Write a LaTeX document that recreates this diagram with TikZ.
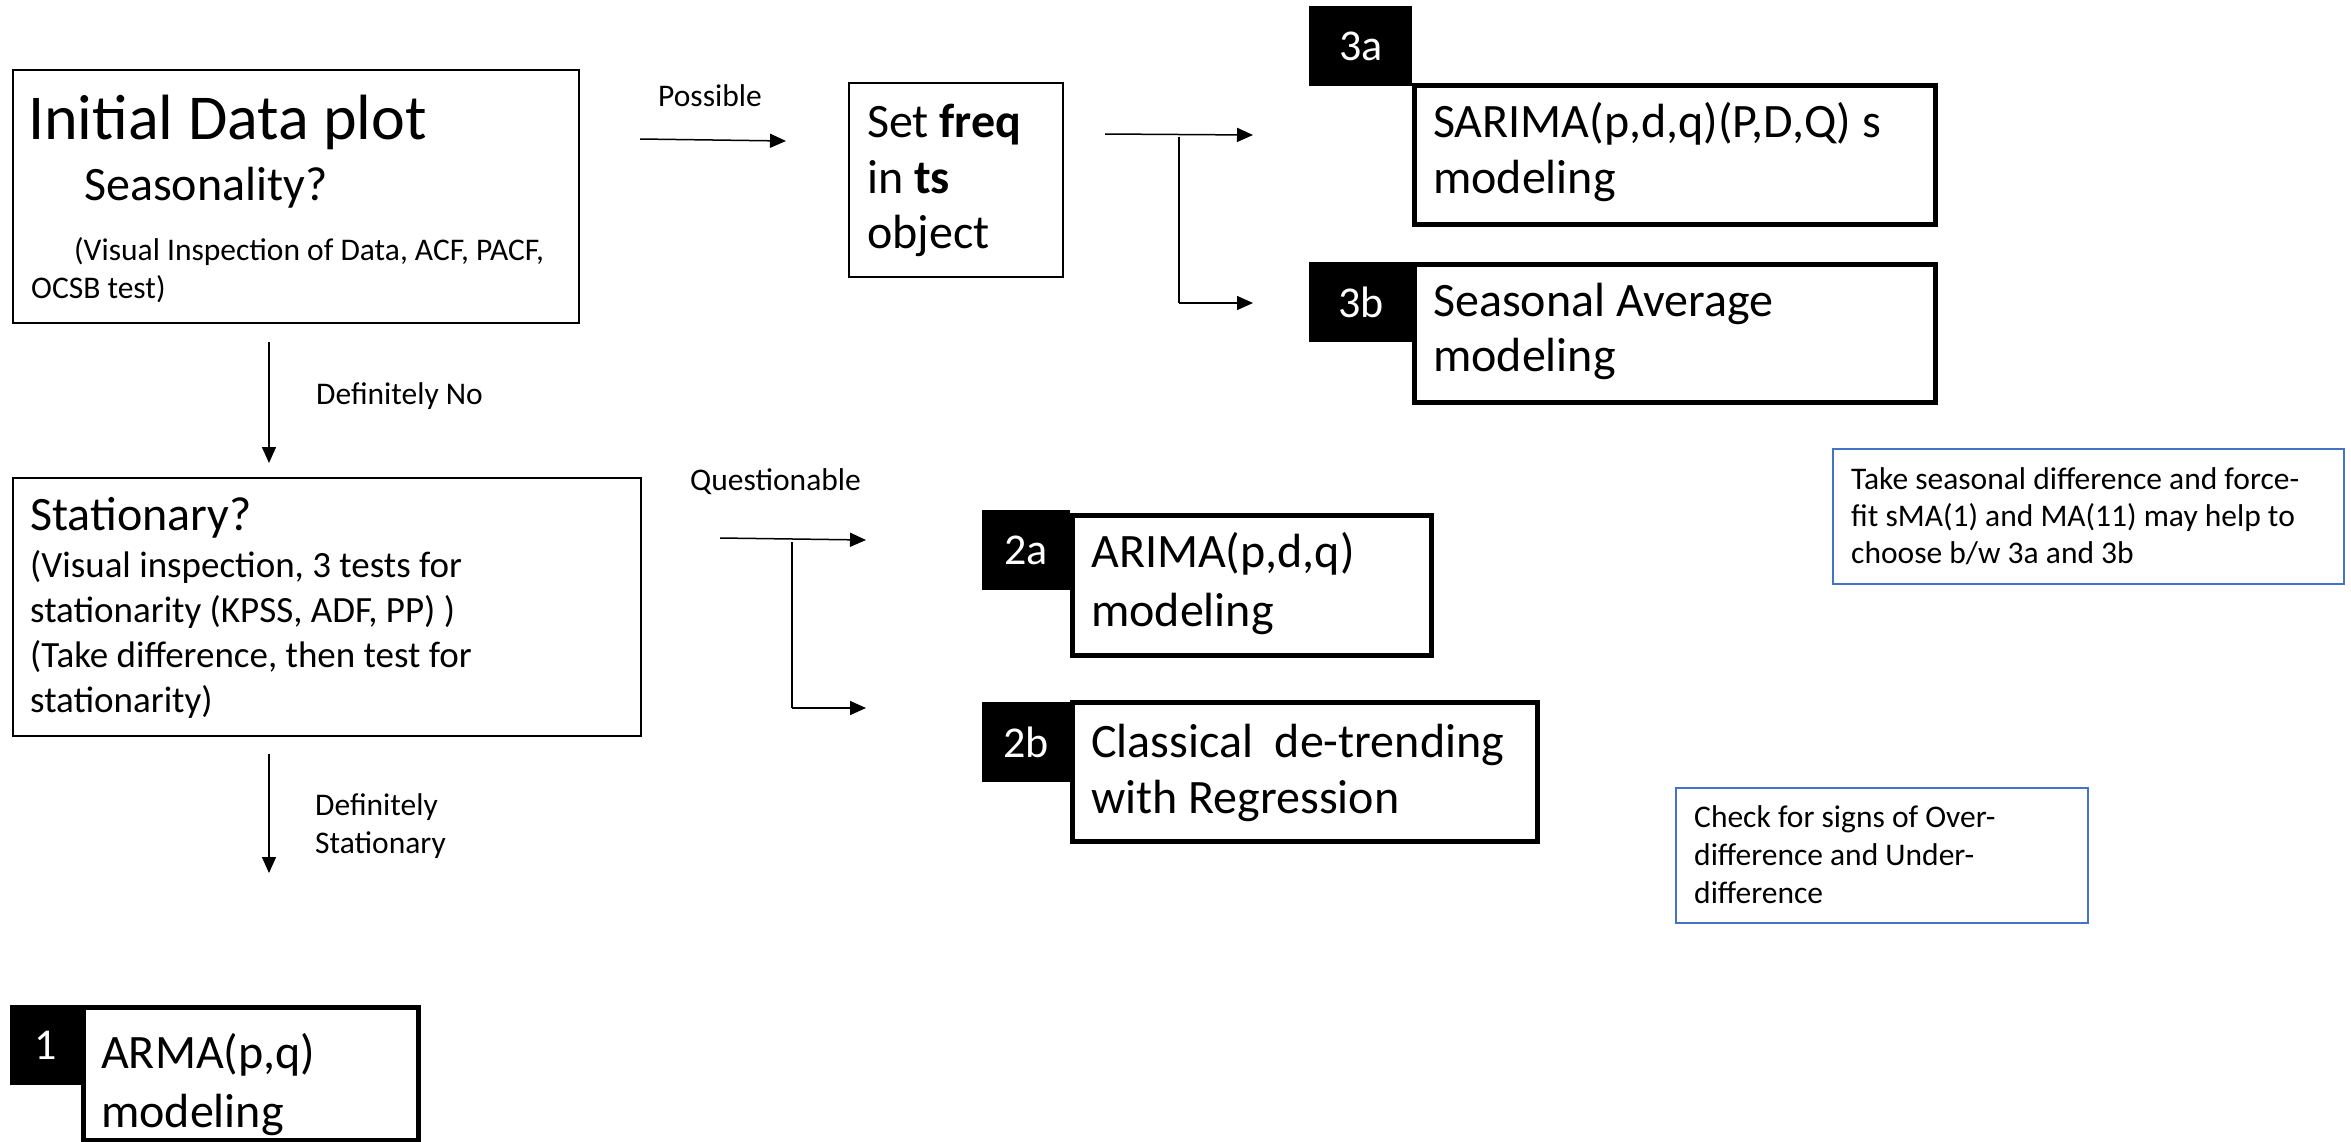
\documentclass[tikz,border=0pt]{standalone}
\usepackage{fontspec}
\setmainfont{Carlito}
\usetikzlibrary{arrows.meta}
\definecolor{noteblue}{HTML}{4472C4}
\begin{document}
\begin{tikzpicture}[x=1pt,y=-1pt,
  thinbox/.style={draw, line width=2pt, inner sep=0pt, anchor=north west},
  modelbox/.style={draw, line width=4.5pt, inner sep=0pt, anchor=north west},
  tagbox/.style={fill=black, text=white, inner sep=0pt, anchor=north west, font=\fontsize{44}{53}\selectfont},
  notebox/.style={draw=noteblue, line width=2pt, inner sep=0pt, anchor=north west},
  txt/.style={anchor=base west, inner sep=0pt},
  big/.style={font=\fontsize{64}{76}\selectfont},
  mid/.style={font=\fontsize{48}{57}\selectfont},
  body/.style={font=\fontsize{37}{45}\selectfont},
  small/.style={font=\fontsize{31.5}{38}\selectfont},
  conn/.style={line width=1.5pt, -{Triangle[length=16pt,width=14pt]}},
  plainline/.style={line width=1.5pt}]
\useasboundingbox (0,0) rectangle (2351,1141);

% boxes
\node[thinbox, minimum width=566pt, minimum height=253pt] (init) at (12,69) {};
\node[thinbox, minimum width=214pt, minimum height=194pt] (freq) at (848,82) {};
\node[thinbox, minimum width=628pt, minimum height=258pt] (stat) at (12,477) {};

\node[modelbox, minimum width=521pt, minimum height=139pt] (sarima) at (1412,83) {};
\node[modelbox, minimum width=521pt, minimum height=138pt] (seas) at (1412,262) {};
\node[modelbox, minimum width=359pt, minimum height=140pt] (arima) at (1070,513) {};
\node[modelbox, minimum width=465pt, minimum height=139pt] (classic) at (1070,700) {};
\node[modelbox, minimum width=335pt, minimum height=133pt] (arma) at (81,1005) {};

\node[tagbox, minimum width=103pt, minimum height=80pt] (t3a) at (1309,6) {3a};
\node[tagbox, minimum width=103pt, minimum height=80pt] (t3b) at (1309,262) {3b};
\node[tagbox, minimum width=88pt, minimum height=80pt] (t2a) at (982,510) {2a};
\node[tagbox, minimum width=88pt, minimum height=80pt] (t2b) at (982,702) {2b};
\node[tagbox, minimum width=71pt, minimum height=80pt] (t1) at (10,1005) {1};

\node[notebox, minimum width=511pt, minimum height=135pt] (note1) at (1832,448) {};
\node[notebox, minimum width=412pt, minimum height=135pt] (note2) at (1675,787) {};

% texts in Initial box
\node[txt, big] (i1) at (28,139) {Initial Data plot};
\node[txt, mid] (i2) at (84,200) {Seasonality?};
\node[txt, small] (i3) at (74,260) {(Visual Inspection of Data, ACF, PACF,};
\node[txt, small] (i4) at (31,298) {OCSB test)};

% Set freq
\node[txt, mid] (f1) at (867,137) {Set \textbf{freq}};
\node[txt, mid] (f2) at (867,193) {in \textbf{ts}};
\node[txt, mid] (f3) at (867,248) {object};

% Stationary box
\node[txt, mid] (s1) at (30,530) {Stationary?};
\node[txt, body] (s2) at (30,577) {(Visual inspection, 3 tests for};
\node[txt, body] (s3) at (30,622) {stationarity (KPSS, ADF, PP) )};
\node[txt, body] (s4) at (30,667) {(Take difference, then test for};
\node[txt, body] (s5) at (30,712) {stationarity)};

% model box texts
\node[txt, mid] (m1) at (1433,137) {SARIMA(p,d,q)(P,D,Q) s};
\node[txt, mid] (m2) at (1433,193) {modeling};
\node[txt, mid] (m3) at (1433,316) {Seasonal Average};
\node[txt, mid] (m4) at (1433,371) {modeling};
\node[txt, mid] (m5) at (1091,567) {ARIMA(p,d,q)};
\node[txt, mid] (m6) at (1091,626) {modeling};
\node[txt, mid] (m7) at (1091,757) {Classical\ \ de-trending};
\node[txt, mid] (m8) at (1091,813) {with Regression};
\node[txt, mid] (m9) at (101,1068) {ARMA(p,q)};
\node[txt, mid] (m10) at (101,1127) {modeling};

% notes
\node[txt, small] (n1) at (1851,489) {Take seasonal difference and force-};
\node[txt, small] (n2) at (1851,526) {fit sMA(1) and MA(11) may help to};
\node[txt, small] (n3) at (1851,563) {choose b/w 3a and 3b};
\node[txt, small] (n4) at (1694,827) {Check for signs of Over-};
\node[txt, small] (n5) at (1694,865) {difference and Under-};
\node[txt, small] (n6) at (1694,903) {difference};

% connector labels
\node[txt, small] (lPos) at (658,106) {Possible};
\node[txt, small] (lDefNo) at (316,404) {Definitely No};
\node[txt, small] (lQ) at (690,490) {Questionable};
\node[txt, small] (lDef1) at (315,815) {Definitely};
\node[txt, small] (lDef2) at (315,853) {Stationary};

% connector coordinates
\coordinate (pA) at (640,139);
\coordinate (pB) at (786,141);
\coordinate (fA) at (1105,134);
\coordinate (fB) at (1253,135);
\coordinate (fV1) at (1179,137);
\coordinate (fV2) at (1179,303);
\coordinate (fC) at (1253,303);
\coordinate (dA) at (269,342);
\coordinate (dB) at (269,463);
\coordinate (qA) at (720,538);
\coordinate (qB) at (866,540);
\coordinate (qV1) at (792,542);
\coordinate (qV2) at (792,708);
\coordinate (qC) at (866,708);
\coordinate (sA) at (269,754);
\coordinate (sB) at (269,873);

\draw[conn] (pA) -- (pB);
\draw[conn] (fA) -- (fB);
\draw[plainline] (fV1) -- (fV2);
\draw[conn] (fV2) -- (fC);
\draw[conn] (dA) -- (dB);
\draw[conn] (qA) -- (qB);
\draw[plainline] (qV1) -- (qV2);
\draw[conn] (qV2) -- (qC);
\draw[conn] (sA) -- (sB);
\end{tikzpicture}
\end{document}
